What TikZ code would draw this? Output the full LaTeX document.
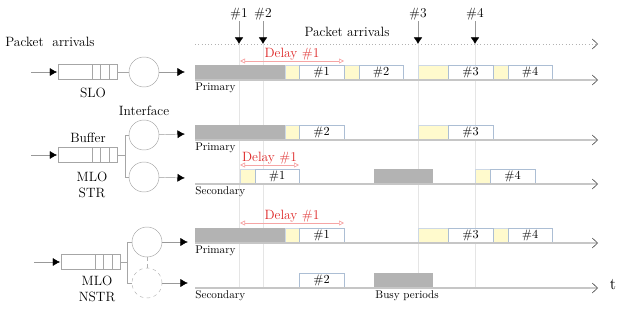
\documentclass[tikz,border=0pt]{standalone}
\usetikzlibrary{arrows.meta,calc}
\definecolor{busygray}{RGB}{179,179,179}
\definecolor{ovhyellow}{RGB}{255,250,205}
\definecolor{pktblue}{RGB}{172,190,212}
\definecolor{delayred}{RGB}{222,40,40}
\definecolor{delaypink}{RGB}{246,165,165}
\tikzset{
    buf/.style={draw=gray!70, minimum width=1.77cm, minimum height=0.45cm, inner sep=0pt},
    iface/.style={circle, draw=gray!70, minimum size=0.9cm, inner sep=0pt},
    feed/.style={gray!80, shorten >=1pt, -{Latex[length=2.2mm,width=2.4mm,color=black]}},
    axis/.style={gray!40, line width=1pt, -{Straight Barb[length=1.6mm,width=3mm,color=black!75,line width=0.5pt]}},
    pkt/.style={draw=pktblue, fill=white},
    ovh/.style={draw=pktblue!60, fill=ovhyellow},
    busy/.style={fill=busygray},
    delay/.style={delaypink, line width=0.6pt, {Triangle[open,length=1.5mm,width=1.5mm]}-{Triangle[open,length=1.5mm,width=1.5mm]}},
    lbl/.style={font=\fontsize{9.5}{11}\selectfont, anchor=north west, inner sep=1pt}
}
\begin{document}
\begin{tikzpicture}[x=0.03cm, y=-0.03cm, font=\fontsize{11.5}{13}\selectfont]
    \useasboundingbox (0,0) rectangle (623,310);
    % Queues
        \node (arrl) at (50,42) {Packet\ \ arrivals};
        \node[buf] (bslo) at (88,72) {};
        \node[buf] (bstr) at (88,155) {};
        \node[buf] (bnstr) at (91,262) {};
        \foreach \b in {bslo,bstr,bnstr}{
            \foreach \o in {9,18,26}{
                \draw[gray!70] ($(\b.north east)+(-\o,0)$) -- ($(\b.south east)+(-\o,0)$);
            }
        }
        \coordinate (inslo) at (31,72);
        \coordinate (instr) at (31,155);
        \coordinate (innstr) at (34,262);
        \draw[feed] (inslo) -- (bslo);
        \draw[feed] (instr) -- (bstr);
        \draw[feed] (innstr) -- (bnstr);
        \node at (93,93) {SLO};
        \node[above=0pt] at (bstr.north) {Buffer};
        \node[align=center] at (92,185) {MLO\\[1pt]STR};
        \node[align=center] at (97,289) {MLO\\[1pt]NSTR};
    % Interfaces
        \node[iface] (islo) at (144,72) {};
        \node[iface] (istrp) at (144,135) {};
        \node[iface] (istrs) at (144,177) {};
        \node[iface] (instrp) at (147,242) {};
        \node[iface, dashed, draw=gray!60] (instrs) at (147,283) {};
        \node[above=0pt] at (istrp.north) {Interface};
        \draw[gray!70] (bslo) -- (islo);
        \draw[gray!70] (bstr.east) -- ++(7,0) |- (istrp.west);
        \draw[gray!70] (bstr.east) ++(7,0) |- (istrs.west);
        \draw[gray!70] (bnstr.east) -- ++(6,0) |- (instrp.west);
        \draw[gray!70] (bnstr.east) ++(6,0) |- (instrs.west);
        \draw[gray!60, dashed] (instrp) -- (instrs);
        \coordinate (oslo) at (186,72);
        \coordinate (ostrp) at (186,134);
        \coordinate (ostrs) at (186,178);
        \coordinate (onstrp) at (189,242);
        \coordinate (onstrs) at (189,283);
        \draw[feed] (islo) -- (oslo);
        \draw[feed] (istrp) -- (ostrp);
        \draw[feed] (istrs) -- (ostrs);
        \draw[feed] (instrp) -- (onstrp);
        \draw[feed] (instrs) -- (onstrs);
    % Arrivals
        \node at (347,32) {Packet arrivals};
        \draw[gray!60, line width=0.8pt, dotted, -{Straight Barb[length=1.6mm,width=3mm,color=black!75,line width=0.5pt]}] (195,44) -- (598,44);
        \foreach \x/\n in {239/1,263/2,418/3,475/4}{
            \draw[gray!20] (\x,44) -- (\x,288);
            \node[inner sep=1pt] (arr\n) at (\x,14) {\#\n};
            \coordinate (hit\n) at (\x,44);
            \draw[gray!80, -{Latex[length=2mm,width=2.6mm,color=black]}] (arr\n) -- (hit\n);
        }
    % Time lines
        \foreach \y in {80,140,184,243,288}{
            \draw[axis] (195,\y) -- (598,\y);
        }
        \node[font=\fontsize{14}{16}\selectfont] at (613,285) {t};
    % Busy periods
        \foreach \a/\b/\y in {195/285/80,195/285/140,374/433/184,195/285/243,374/433/288}{
            \fill[busy] (\a,\y) rectangle (\b,\y-15);
        }
    % Overheads
        \foreach \a/\b/\y in {285/299/80,344/359/80,418/448/80,493/508/80,
                              285/299/140,418/448/140,
                              240/255/184,475/490/184,
                              285/299/243,418/448/243,493/508/243}{
            \draw[ovh] (\a,\y) rectangle (\b,\y-15);
        }
    % Packets
        \foreach \a/\b/\y/\n in {299/344/80/1,359/403/80/2,448/493/80/3,508/552/80/4,
                                 299/344/140/2,448/493/140/3,
                                 255/299/184/1,490/535/184/4,
                                 299/344/243/1,448/493/243/3,508/552/243/4,
                                 299/344/288/2}{
            \draw[pkt] (\a,\y) rectangle (\b,\y-15) node[midway, font=\fontsize{10.5}{12}\selectfont] {\#\n};
        }
        \foreach \y in {80,140,184,243,288}{
            \draw[gray!45, line width=1pt] (195,\y) -- (590,\y);
        }
    % Delays
        \draw[delay] (240,61) -- node[above=-1pt, delayred, inner sep=1pt] {Delay \#1} (344,61);
        \draw[delay] (240,165) -- node[above=-1pt, delayred, inner sep=1pt] {Delay \#1} (299,165);
        \draw[delay] (240,223) -- node[above=-1pt, delayred, inner sep=1pt] {Delay \#1} (344,223);
    % Labels
        \node[lbl] at (194,81) {Primary};
        \node[lbl] at (194,141) {Primary};
        \node[lbl] at (194,185) {Secondary};
        \node[lbl] at (194,244) {Primary};
        \node[lbl] at (194,289) {Secondary};
        \node[lbl] at (374,289) {Busy periods};
\end{tikzpicture}
\end{document}
